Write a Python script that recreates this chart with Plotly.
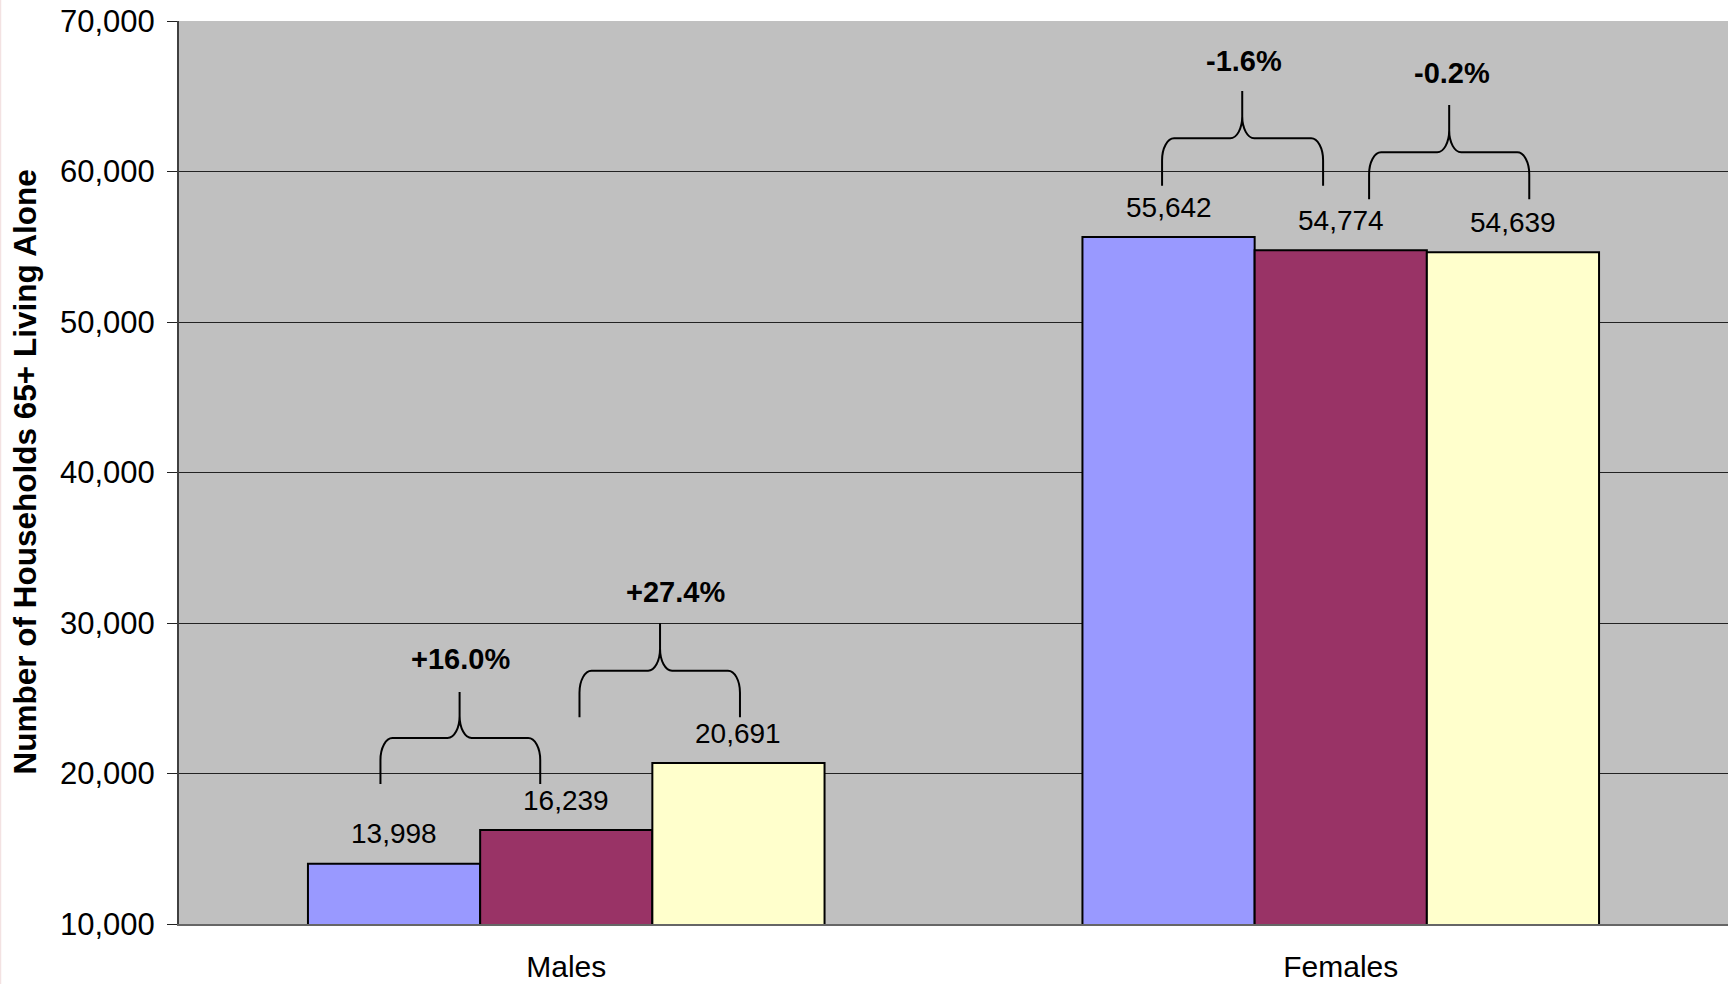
import plotly.graph_objects as go

# ---------------- data ----------------
categories = ["Males", "Females"]
series_names = ["Series 1", "Series 2", "Series 3"]
series_1 = [13998, 55642]
series_2 = [16239, 54774]
series_3 = [20691, 54639]
y_tick_values = [10000, 20000, 30000, 40000, 50000, 60000, 70000]
y_tick_labels = ["10,000", "20,000", "30,000", "40,000", "50,000", "60,000", "70,000"]

# ---------------- styles / layout ----------------
colors = ["#9999FF", "#993366", "#FFFFCC"]
FONT = "Liberation Sans, Arial, sans-serif"
BARGAP = 0.333
W, H = 1728, 984
ML, MR, MT, MB = 179, 0, 21, 60

# brace placement (pair: category index, from-series, to-series) with geometry
braces = [
    dict(cat=0, a=0, b=1, xl=-0.2399, xc=-0.1377, xr=-0.0336, yb=19302, yh=22358, yt=25414, lx=-0.137, ly=27608),
    dict(cat=0, a=1, b=2, xl=0.0171, xc=0.1211, xr=0.2243, yb=23734, yh=26831, yt=29980, lx=0.141, ly=32060),
    dict(cat=1, a=0, b=1, xl=-0.2307, xc=-0.1272, xr=-0.0228, yb=59057, yh=62206, yt=65349, lx=-0.1249, ly=67362),
    dict(cat=1, a=1, b=2, xl=0.0366, xc=0.1400, xr=0.2434, yb=58153, yh=61276, yt=64419, lx=0.1436, ly=66525),
]
RX = 0.0155
RY = 1460
K = 0.5523

all_series = [series_1, series_2, series_3]
x_idx = list(range(len(categories)))

fig = go.Figure()
for name, vals, col in zip(series_names, all_series, colors):
    fig.add_trace(go.Bar(
        x=x_idx, y=vals, name=name,
        marker=dict(color=col, line=dict(color="black", width=2)),
        showlegend=False, hoverinfo="y",
    ))

# value labels above bars
n = len(all_series)
bw = (1 - BARGAP) / n
annotations = []
for i, vals in enumerate(all_series):
    for c, v in enumerate(vals):
        annotations.append(dict(
            x=c + (i - (n - 1) / 2) * bw, y=v, xref="x", yref="y",
            text=f"{v:,}", showarrow=False, yanchor="middle", yshift=30,
            font=dict(family=FONT, size=28, color="black"),
        ))

shapes = []
for br in braces:
    c = br["cat"]
    xl, xc, xr = c + br["xl"], c + br["xc"], c + br["xr"]
    yb, yh, yt = br["yb"], br["yh"], br["yt"]
    p = (
        f"M {xl},{yb} L {xl},{yh-RY} "
        f"C {xl},{yh-RY+K*RY} {xl+RX-K*RX},{yh} {xl+RX},{yh} "
        f"L {xc-RX},{yh} "
        f"C {xc-RX+K*RX},{yh} {xc},{yh+RY-K*RY} {xc},{yh+RY} "
        f"L {xc},{yt} "
        f"M {xr},{yb} L {xr},{yh-RY} "
        f"C {xr},{yh-RY+K*RY} {xr-RX+K*RX},{yh} {xr-RX},{yh} "
        f"L {xc+RX},{yh} "
        f"C {xc+RX-K*RX},{yh} {xc},{yh+RY-K*RY} {xc},{yh+RY}"
    )
    shapes.append(dict(type="path", path=p, xref="x", yref="y",
                       line=dict(color="black", width=2), layer="above"))
    va = all_series[br["a"]][c]
    vb = all_series[br["b"]][c]
    pct = (vb - va) / va * 100
    annotations.append(dict(
        x=c + br["lx"], y=br["ly"], xref="x", yref="y",
        text=f"<b>{pct:+.1f}%</b>", showarrow=False, yanchor="middle",
        font=dict(family=FONT, size=29, color="black"),
    ))

# faint border line at the very left edge of the image
pw, ph = W - ML - MR, H - MT - MB
edge_x = (0.5 - ML) / pw
shapes.append(dict(type="line", xref="paper", yref="paper",
                   x0=edge_x, x1=edge_x, y0=-MB / ph, y1=1 + MT / ph,
                   line=dict(color="#F3E2E2", width=1.5), layer="above"))

# y-axis title as annotation
annotations.append(dict(
    x=0, y=0.5, xref="paper", yref="paper", xanchor="center", yanchor="middle",
    xshift=-155, text="<b>Number of Households 65+ Living Alone</b>",
    textangle=-90, showarrow=False,
    font=dict(family=FONT, size=31.5, color="black"),
))

fig.update_layout(
    width=W, height=H,
    margin=dict(l=ML, r=MR, t=MT, b=MB, autoexpand=False),
    paper_bgcolor="white", plot_bgcolor="#C0C0C0",
    barmode="group", bargap=BARGAP, bargroupgap=0,
    annotations=annotations, shapes=shapes,
    font=dict(family=FONT, color="black"),
)
fig.update_xaxes(
    range=[-0.5, 1.5], tickmode="array", tickvals=x_idx, ticktext=categories,
    tickfont=dict(family=FONT, size=30, color="black"),
    showgrid=False, zeroline=False, showline=True, linecolor="#666666", linewidth=2,
    ticks="", ticklabelstandoff=15, automargin=False, ticklabeloverflow="allow",
)
fig.update_yaxes(
    range=[10000, 70000], tickmode="array", tickvals=y_tick_values, ticktext=y_tick_labels,
    tickfont=dict(family=FONT, size=31, color="black"),
    showgrid=True, gridcolor="#222222", gridwidth=1, zeroline=False,
    showline=True, linecolor="#404040", linewidth=2,
    ticks="outside", ticklen=10, tickcolor="#222222", tickwidth=1,
    ticklabelstandoff=6, automargin=False, ticklabeloverflow="allow",
)

# remove the browser's default 8px page margin so the figure fills the window
fig.write_html(
    "out.html",
    config={"displayModeBar": False},
    post_script="document.body.style.margin='0';document.body.style.overflow='hidden';",
)
